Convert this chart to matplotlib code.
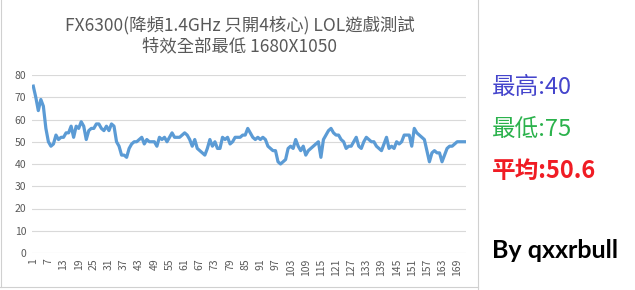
import numpy as np
import matplotlib.pyplot as plt
from matplotlib.lines import Line2D

plt.rcParams['font.family'] = ['Noto Sans CJK TC', 'DejaVu Sans']

# FPS per sample
fps = [75, 70, 64, 69, 66, 56, 50, 48, 49, 53,
       51, 52, 52, 54, 54, 57, 52, 57, 56, 59,
       57, 51, 55, 56, 56, 58, 58, 56, 55, 57,
       55, 58, 57, 50, 48, 44, 44, 43, 47, 49,
       50, 50, 51, 52, 49, 51, 50, 50, 50, 48,
       52, 51, 52, 50, 52, 54, 52, 52, 52, 53,
       54, 53, 51, 48, 51, 47, 46, 45, 44, 47,
       51, 48, 50, 47, 47, 52, 51, 52, 49, 50,
       52, 52, 52, 53, 53, 56, 54, 52, 51, 52,
       51, 52, 51, 48, 47, 46, 46, 41, 40, 41,
       42, 47, 48, 47, 51, 48, 46, 48, 44, 46,
       47, 48, 49, 50, 43, 51, 53, 55, 56, 54,
       53, 53, 51, 50, 47, 48, 48, 50, 52, 48,
       47, 50, 52, 51, 50, 50, 48, 47, 46, 49,
       52, 47, 48, 47, 50, 49, 50, 53, 53, 53,
       48, 56, 54, 53, 52, 51, 46, 41, 45, 46,
       45, 45, 41, 44, 47, 48, 48, 49, 50, 50,
       50, 50]
samples = np.arange(1, len(fps) + 1)
y_ticks = [0, 10, 20, 30, 40, 50, 60, 70, 80]

title = 'FX6300(降頻1.4GHz 只開4核心) LOL遊戲測試\n特效全部最低 1680X1050'
notes = [('最高:40', '#4545CC', 'normal'),
         ('最低:75', '#2BB24C', 'normal'),
         ('平均:50.6', '#F01C24', 'bold')]
author = 'By qxxrbull'

fig = plt.figure(figsize=(6.35, 2.9), dpi=100)
ax = fig.add_axes([32/635, 1 - 253/290, 434/635, 178/290])

ax.plot(samples, fps, color='#5B9BD5', linewidth=2.3, solid_joinstyle='round')
ax.set_xlim(0.5, len(fps) + 0.5)
ax.set_ylim(0, 80)
ax.set_yticks(y_ticks)
ax.set_xticks(samples[::6])
ax.set_xticklabels([str(s) for s in samples[::6]], rotation=90)
ax.tick_params(length=0, labelsize=7.5, colors='#595959', pad=4)
ax.grid(axis='y', color='#D9D9D9', linewidth=0.8)
ax.set_axisbelow(True)
for s in ax.spines.values():
    s.set_visible(False)

fig.text(240/635, 1 - 36/290, title, ha='center', va='center',
         fontsize=12.5, color='#595959', linespacing=1.2)

# chart border and a bit of the sheet grid around it
fig.add_artist(Line2D([478/635, 478/635], [0, 1], color='#D0D0D0', linewidth=0.8))
fig.add_artist(Line2D([0, 478/635], [1 - 287/290] * 2, color='#D0D0D0', linewidth=0.8))
fig.add_artist(Line2D([1/635] * 2, [1 - 287/290, 1], color='#D0D0D0', linewidth=0.8))

ys = [88, 129, 171]
for (txt, col, w), y in zip(notes, ys):
    fig.text(492/635, 1 - y/290, txt, ha='left', va='center',
             fontsize=17, color=col, fontweight=w)
fig.text(492/635, 1 - 251/290, author, ha='left', va='center',
         fontsize=18, color='black', fontweight='bold', family='Lato')

fig.savefig('out.png', dpi=100)
